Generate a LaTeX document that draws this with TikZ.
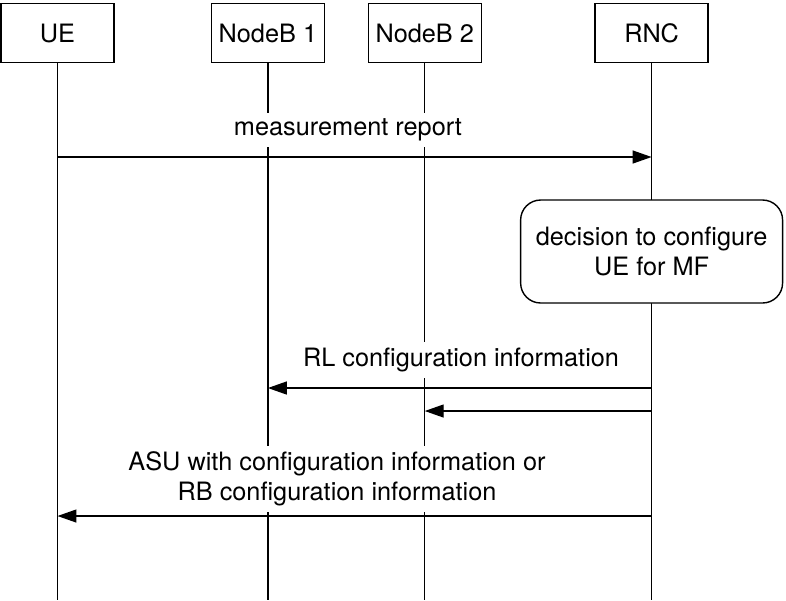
\documentclass[tikz,border=0pt]{standalone}
\usepackage{fontspec}
\setsansfont{TeX Gyre Heros}
\usetikzlibrary{arrows.meta,positioning}

\begin{document}
\begin{tikzpicture}[
    x=0.02cm, y=-0.02cm,
    >={Triangle[length=0.38cm,width=0.26cm]},
    font=\sffamily\fontsize{14.4}{16.8}\selectfont,
    entity/.style={draw, line width=0.8pt, minimum width=2.26cm, minimum height=1.18cm, inner sep=0pt},
    note/.style={draw, fill=white, line width=0.8pt, rounded corners=0.4cm, align=center, minimum width=5.24cm, minimum height=2.06cm},
    label/.style={fill=white, align=center},
    life/.style={line width=0.8pt},
    msg/.style={->, line width=0.8pt}
]
\useasboundingbox (0,0) rectangle (786,600);

% entities
\node[entity] (ue) at (57.5,33) {UE};
\node[entity, right=1.92cm of ue] (nb1) {NodeB 1};
\node[entity, right=0.85cm of nb1] (nb2) {NodeB 2};
\node[entity, right=2.25cm of nb2] (rnc) {RNC};

% lifelines
\coordinate (ue-end) at (ue |- 0,600);
\coordinate (nb1-end) at (nb1 |- 0,600);
\coordinate (nb2-end) at (nb2 |- 0,600);
\coordinate (rnc-end) at (rnc |- 0,600);
\draw[life] (ue) -- (ue-end);
\draw[life] (nb1) -- (nb1-end);
\draw[life] (nb2) -- (nb2-end);
\draw[life] (rnc) -- (rnc-end);

% measurement report
\coordinate (ue-m1) at (ue |- 0,157);
\coordinate (rnc-m1) at (rnc |- 0,157);
\node[label] (lbl-meas) at (348,130) {measurement report};
\draw[msg] (ue-m1) -- (rnc-m1);

% decision
\node[note] (dec) at (rnc |- 0,251.5) {decision to configure\\UE for MF};

% RL configuration
\coordinate (rnc-m2) at (rnc |- 0,388);
\coordinate (nb1-m2) at (nb1 |- 0,388);
\coordinate (rnc-m3) at (rnc |- 0,411);
\coordinate (nb2-m3) at (nb2 |- 0,411);
\node[label] (lbl-rl) at (461,360) {RL configuration information};
\draw[msg] (rnc-m2) -- (nb1-m2);
\draw[msg] (rnc-m3) -- (nb2-m3);

% ASU / RB configuration
\coordinate (rnc-m4) at (rnc |- 0,516);
\coordinate (ue-m4) at (ue |- 0,516);
\node[label] (lbl-asu) at (337,479) {ASU with configuration information or\\RB configuration information};
\draw[msg] (rnc-m4) -- (ue-m4);
\end{tikzpicture}
\end{document}
